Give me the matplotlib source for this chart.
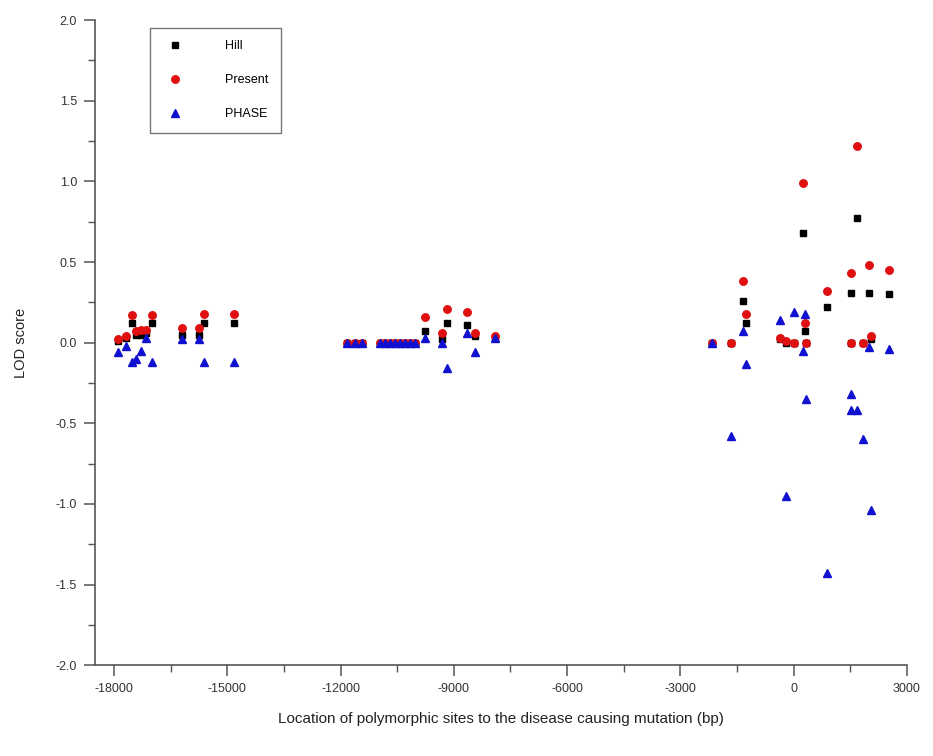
import matplotlib
matplotlib.use("Agg")
import matplotlib.pyplot as plt
from matplotlib.ticker import MultipleLocator

plt.rcParams["font.family"] = ["Liberation Sans", "DejaVu Sans"]
plt.rcParams["axes.unicode_minus"] = False

# site positions (bp relative to the mutation) and LOD scores for each method
hill_x = [-17900, -17680, -17520, -17420, -17280, -17150, -16990, -16200, -15740, -15610, -14810,
          -11840, -11630, -11440, -10965, -10830, -10700, -10570, -10430, -10300, -10170, -10030,
          -9770, -9320, -9190, -8660, -8440, -7910,
          -2150, -1670, -1350, -1270, -370, -210, 20, 240, 290, 320, 880, 1510, 1510, 1670,
          1830, 1990, 2040, 2520]
hill_y = [0.01, 0.03, 0.12, 0.05, 0.05, 0.06, 0.12, 0.05, 0.05, 0.12, 0.12,
          0.0, 0.0, 0.0, 0.0, 0.0, 0.0, 0.0, 0.0, 0.0, 0.0, 0.0,
          0.07, 0.02, 0.12, 0.11, 0.04, 0.03,
          0.0, 0.0, 0.26, 0.12, 0.02, 0.0, 0.0, 0.68, 0.07, 0.0, 0.22, 0.31, 0.0, 0.77,
          0.0, 0.31, 0.02, 0.30]

present_x = hill_x
present_y = [0.02, 0.04, 0.17, 0.07, 0.08, 0.08, 0.17, 0.09, 0.09, 0.18, 0.18,
             0.0, 0.0, 0.0, 0.0, 0.0, 0.0, 0.0, 0.0, 0.0, 0.0, 0.0,
             0.16, 0.06, 0.21, 0.19, 0.06, 0.04,
             0.0, 0.0, 0.38, 0.18, 0.03, 0.01, 0.0, 0.99, 0.12, 0.0, 0.32, 0.43, 0.0, 1.22,
             0.0, 0.48, 0.04, 0.45]

phase_x = hill_x
phase_y = [-0.06, -0.02, -0.12, -0.10, -0.05, 0.03, -0.12, 0.02, 0.02, -0.12, -0.12,
           0.0, 0.0, 0.0, 0.0, 0.0, 0.0, 0.0, 0.0, 0.0, 0.0, 0.0,
           0.03, 0.0, -0.16, 0.06, -0.06, 0.03,
           0.0, -0.58, 0.07, -0.13, 0.14, -0.95, 0.19, -0.05, 0.18, -0.35, -1.43, -0.32, -0.42, -0.42,
           -0.60, -0.03, -1.04, -0.04]

x_ticks = [-18000, -15000, -12000, -9000, -6000, -3000, 0, 3000]

fig = plt.figure(figsize=(9.33, 7.56), dpi=100)
ax = fig.add_axes([0.102, 0.12, 0.87, 0.8535])

ax.plot(hill_x, hill_y, linestyle="none", marker="s", color="black", markersize=4.8, label="Hill")
ax.plot(present_x, present_y, linestyle="none", marker="o", color="#e01010", markersize=5.4,
        label="Present")
ax.plot(phase_x, phase_y, linestyle="none", marker="^", color="#1010d0", markersize=6.2,
        label="PHASE")

ax.set_xlim(-18500, 3000)
ax.set_ylim(-2.0, 2.0)
ax.set_xticks(x_ticks)
ax.xaxis.set_minor_locator(MultipleLocator(1500))
ax.yaxis.set_major_locator(MultipleLocator(0.5))
ax.yaxis.set_minor_locator(MultipleLocator(0.25))
ax.yaxis.set_major_formatter(plt.FormatStrFormatter("%.1f"))

for side in ("top", "right"):
    ax.spines[side].set_visible(False)
for side in ("left", "bottom"):
    ax.spines[side].set_color("#555555")
    ax.spines[side].set_linewidth(1.2)

ax.tick_params(which="major", direction="out", length=8, width=1.1, color="#555555",
               labelsize=9, labelcolor="#333333", pad=5)
ax.tick_params(which="minor", direction="out", length=5, width=1.0, color="#555555")

ax.set_xlabel("Location of polymorphic sites to the disease causing mutation (bp)",
              fontsize=11, color="#222222", labelpad=12)
ax.set_ylabel("LOD score", fontsize=10.5, color="#222222", labelpad=20)

leg = ax.legend(loc="upper left", bbox_to_anchor=(0.068, 0.988), borderaxespad=0,
                fontsize=9, fancybox=False, handlelength=2.0, handletextpad=3.0,
                labelspacing=1.75, borderpad=1.0, numpoints=1)
leg.get_frame().set_edgecolor("#555555")
leg.get_frame().set_linewidth(1.0)

fig.savefig("out.png", dpi=100)
